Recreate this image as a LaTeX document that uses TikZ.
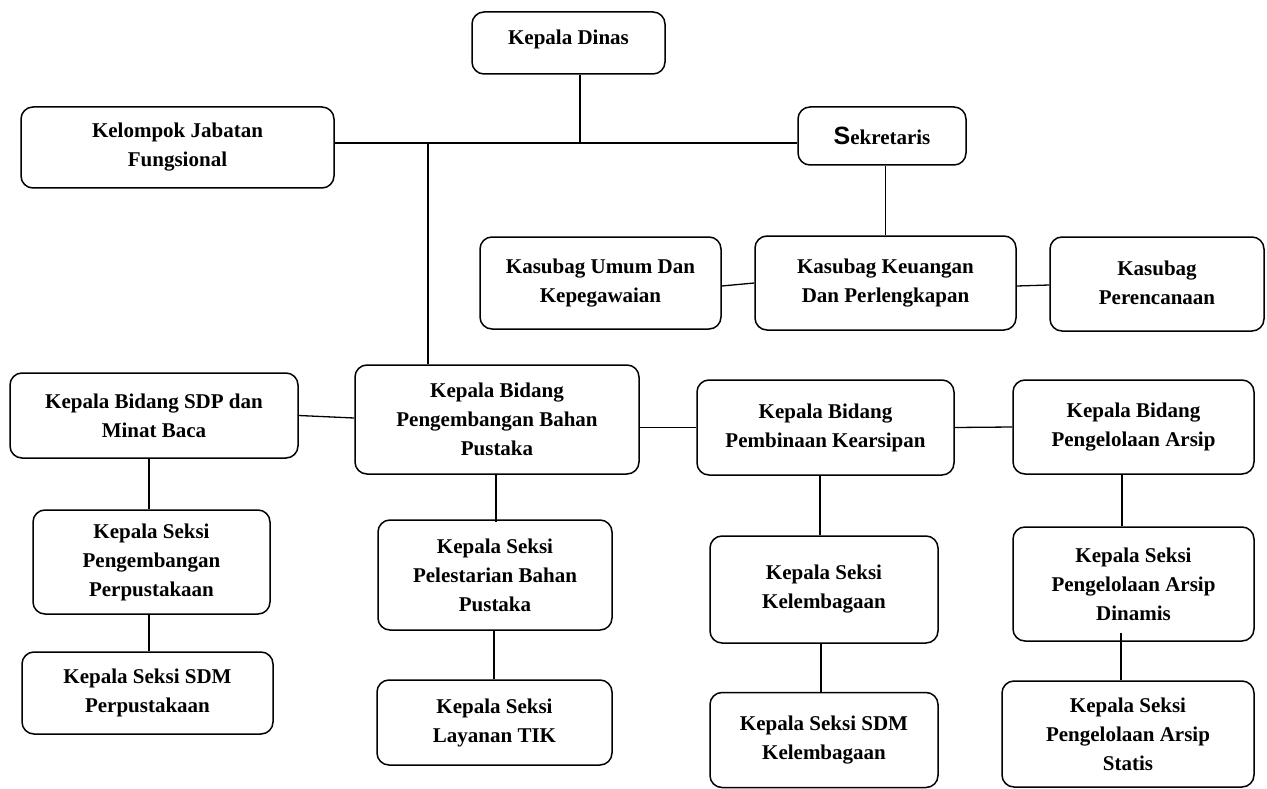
\documentclass[tikz,border=0pt]{standalone}
\usepackage{fontspec}
\setmainfont{Liberation Serif}
\setsansfont{Liberation Sans}
\begin{document}
\begin{tikzpicture}[x=1pt,y=-1pt,
  box/.style={draw, line width=1.5pt, rounded corners=12pt, inner sep=0pt, align=center,
    font=\fontsize{21}{29}\selectfont\bfseries},
  conn/.style={line width=1.3pt}]
\useasboundingbox (0,0) rectangle (1267,789);
% top
\node[box, minimum width=193, minimum height=62] (kd) at (568.5,43) {\raisebox{11pt}{Kepala Dinas}};
\node[box, minimum width=313, minimum height=81] (kjf) at (177.5,147.5) {Kelompok Jabatan\\Fungsional};
\node[box, minimum width=168, minimum height=58] (sek) at (882,136) {\raisebox{-4pt}{{\fontsize{25}{29}\selectfont\sffamily S}ekretaris}};
% kasubag
\node[box, minimum width=241, minimum height=92] (umum) at (600.5,283) {Kasubag Umum Dan\\Kepegawaian};
\node[box, minimum width=261, minimum height=94] (keu) at (885.5,283) {Kasubag Keuangan\\Dan Perlengkapan};
\node[box, minimum width=214, minimum height=94] (ren) at (1157,284) {\raisebox{3pt}{\begin{tabular}{@{}c@{}}Kasubag\\Perencanaan\end{tabular}}};
% bidang
\node[box, minimum width=288, minimum height=85] (bsdp) at (154,415.5) {Kepala Bidang SDP dan\\Minat Baca};
\node[box, minimum width=284, minimum height=109] (kpb) at (497,419.5) {Kepala Bidang\\Pengembangan Bahan\\Pustaka};
\node[box, minimum width=257, minimum height=95] (bpk) at (825.5,427.5) {Kepala Bidang\\Pembinaan Kearsipan};
\node[box, minimum width=241, minimum height=94] (bpa) at (1133.5,427) {Kepala Bidang\\Pengelolaan Arsip};
% seksi
\node[box, minimum width=237, minimum height=104] (spp) at (151.5,562) {Kepala Seksi\\Pengembangan\\Perpustakaan};
\node[box, minimum width=251, minimum height=82] (ssdm) at (147.5,693) {Kepala Seksi SDM\\Perpustakaan};
\node[box, minimum width=234, minimum height=110] (spel) at (495,575) {Kepala Seksi\\Pelestarian Bahan\\Pustaka};
\node[box, minimum width=235, minimum height=85] (stik) at (494.5,722.5) {Kepala Seksi\\Layanan TIK};
\node[box, minimum width=228, minimum height=107] (skel) at (824,589.5) {Kepala Seksi\\Kelembagaan};
\node[box, minimum width=228, minimum height=95] (ssdmk) at (824,740) {Kepala Seksi SDM\\Kelembagaan};
\node[box, minimum width=241, minimum height=114] (sdin) at (1133.5,584) {Kepala Seksi\\Pengelolaan Arsip\\Dinamis};
\node[box, minimum width=252, minimum height=106] (sstat) at (1128,734) {Kepala Seksi\\Pengelolaan Arsip\\Statis};
% junctions
\coordinate (j1) at (580,143);
\coordinate (j2) at (428,143);
% connectors
\draw[conn] (kd.south -| j1) -- (j1);
\draw[conn] (kjf.east |- j1) -- (sek.west |- j1);
\draw[conn] (j2) -- (j2 |- kpb.north);
\draw[conn] (sek.south -| keu.north) -- (keu.north);
\draw[conn] ([yshift=-3pt]umum.east) -- (keu.west);
\draw[conn] ([yshift=-3pt]keu.east) -- ([yshift=-1pt]ren.west);
\draw[conn] (bsdp.east) -- ([yshift=1.5pt]kpb.west);
\draw[conn] (kpb.east |- bpk.west) -- (bpk.west);
\draw[conn] (bpk.east) -- (bpa.west);
\draw[conn] ([xshift=-5pt]bsdp.south) -- ([xshift=-2.5pt]spp.north);
\draw[conn] ([xshift=-2.5pt]spp.south) -- ([xshift=1.5pt]ssdm.north);
\draw[conn] ([xshift=-1pt]kpb.south) -- ([xshift=1pt,yshift=-3pt]spel.north);
\draw[conn] ([xshift=-1pt]spel.south) -- ([xshift=-0.5pt]stik.north);
\draw[conn] ([xshift=-5.5pt]bpk.south) -- ([xshift=-4pt]skel.north);
\draw[conn] ([xshift=-3pt]skel.south) -- ([xshift=-3pt]ssdmk.north);
\draw[conn] ([xshift=-11.5pt]bpa.south) -- ([xshift=-11.5pt]sdin.north);
\draw[conn] ([xshift=-12.5pt,yshift=9pt]sdin.south) -- ([xshift=-7pt]sstat.north);
\end{tikzpicture}
\end{document}
